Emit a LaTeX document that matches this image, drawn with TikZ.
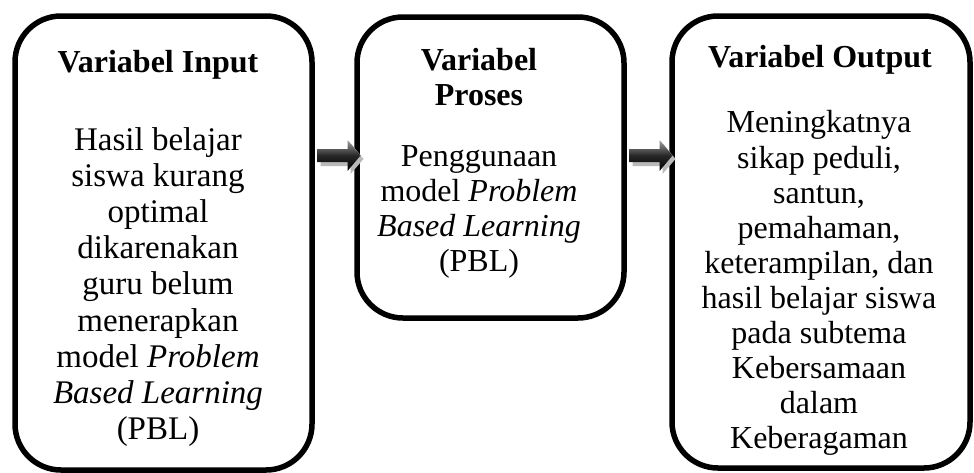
\documentclass[tikz,border=0pt]{standalone}
\usepackage{fontspec}
\setmainfont{Liberation Serif}
\usetikzlibrary{calc}
\tikzset{
  box/.style={draw=black, line width=5.5pt, rounded corners=46pt, rectangle, inner sep=0pt},
  ttl/.style={font=\fontsize{32}{35}\selectfont\bfseries, align=center, inner sep=0pt, anchor=north},
  body/.style={font=\fontsize{33}{36.2}\selectfont, align=center, inner sep=0pt, anchor=north},
  body3/.style={font=\fontsize{32}{35.1}\selectfont, align=center, inner sep=0pt, anchor=north},
  arrshade/.style={top color=gray!75, bottom color=black, middle color=black!85, draw=none},
  arrshadow/.style={fill=gray!55, draw=none},
}
\newcommand{\fatarr}{%
  \fill[arrshadow] (3,152) -- (33,152) -- (33,143) -- (46,159) -- (33,174) -- (33,166) -- (3,166) -- cycle;
  \shade[arrshade] (0,149) -- (30,149) -- (30,140) -- (43,155.5) -- (30,171) -- (30,162) -- (0,162) -- cycle;
}
\begin{document}
\begin{tikzpicture}[x=1pt, y=-1pt]
\useasboundingbox (0,0) rectangle (974,472);
% boxes
\node[box, minimum width=297pt, minimum height=454pt] (b1) at (163.5,243) {};
\node[box, minimum width=267pt, minimum height=301pt] (b2) at (490.5,167.5) {};
\node[box, minimum width=298pt, minimum height=452pt] (b3) at (821,242) {};
% arrows
\coordinate (a1) at (b1.east |- 0,0);
\coordinate (a2) at (b2.east |- 0,0);
\begin{scope}[shift={(a1)}, xshift=2.75pt]
  \fatarr
\end{scope}
\begin{scope}[shift={(a2)}, xshift=2.75pt]
  \fatarr
\end{scope}
% texts
\node[ttl] (t1) at (158,50) {Variabel Input};
\node[body] (x1) at (158,127) {Hasil belajar\\siswa kurang\\optimal\\dikarenakan\\guru belum\\menerapkan\\model \textit{Problem}\\\textit{Based Learning}\\(PBL)};
\node[ttl] (t2) at (479,48) {Variabel\\Proses};
\node[body3] (x2) at (479,145.5) {Penggunaan\\model \textit{Problem}\\\textit{Based Learning}\\(PBL)};
\node[ttl] (t3) at (820,45) {Variabel Output};
\node[body3] (x3) at (819,110.5) {Meningkatnya\\sikap peduli,\\santun,\\pemahaman,\\keterampilan, dan\\hasil belajar siswa\\pada subtema\\Kebersamaan\\dalam\\Keberagaman};
\end{tikzpicture}
\end{document}
